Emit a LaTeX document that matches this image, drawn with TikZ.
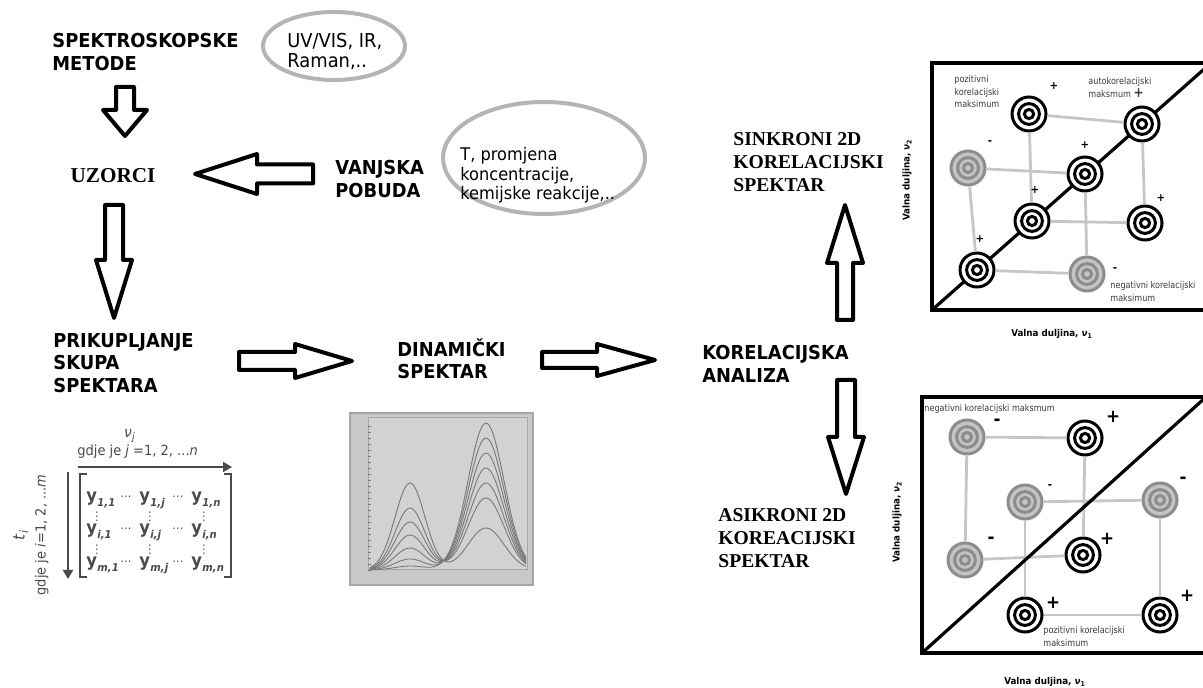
\documentclass[tikz,border=0pt]{standalone}
\usepackage{fontspec}
\setmainfont{DejaVu Sans}[FakeStretch=0.93]
\newfontfamily\tinysans{DejaVu Sans}[FakeStretch=0.86]
\newfontfamily\headserif{Liberation Serif}
\usetikzlibrary{arrows.meta,calc,shapes.geometric}
\definecolor{Ring}{HTML}{B4B4B4}
\definecolor{Link}{HTML}{C6C6C6}
\definecolor{SpotGrey}{HTML}{8C8C8C}
\definecolor{SpotFill}{HTML}{C4C4C4}
\definecolor{Mat}{HTML}{4A4A4A}
\definecolor{Tiny}{HTML}{3A3A3A}
\definecolor{Panel}{HTML}{C8C8C8}
\definecolor{PanelEdge}{HTML}{A6A6A6}
\definecolor{PlotFill}{HTML}{D2D2D2}
\definecolor{Curve}{HTML}{787878}
\newcommand{\fatarrow}[5]{%
  \path (#2) coordinate (fa-e) ($(#2)!#5!(#1)$) coordinate (fa-h);
  \draw[fat] ($(#1)!#3!90:(#2)$) -- ($(fa-h)!#3!90:(fa-e)$) -- ($(fa-h)!#4!90:(fa-e)$)
    -- (fa-e) -- ($(fa-h)!#4!-90:(fa-e)$) -- ($(fa-h)!#3!-90:(fa-e)$)
    -- ($(#1)!#3!-90:(#2)$) -- cycle;}
\newcommand{\ent}[1]{\textbf{y}\kern.2pt\raisebox{-.45ex}{\fontsize{5.4}{5.4}\selectfont\bfseries\itshape #1}}
\tikzset{
  hd/.style={font=\bfseries\fontsize{9.6}{11.3}\selectfont,align=left,inner sep=0pt,anchor=north west},
  hdserif/.style={hd,font=\headserif\bfseries\fontsize{9.8}{11.5}\selectfont},
  note/.style={font=\fontsize{9.6}{10}\selectfont,align=left,inner sep=0pt,anchor=north west},
  bubble/.style={ellipse,draw=Ring,line width=2pt,inner sep=0pt},
  fat/.style={draw=black,fill=white,line width=2pt,line join=round},
  garrow/.style={draw=Mat,line width=1.3pt,-{Triangle[length=4.5pt,width=5pt]}},
  bracket/.style={draw=Mat,line width=1.1pt},
  ent/.style={font=\fontsize{8.8}{9}\selectfont,text=Mat,inner sep=0pt,anchor=base west},
  mdots/.style={font=\fontsize{6}{6}\selectfont,text=Mat,inner sep=0pt},
  matlab/.style={font=\fontsize{7}{10.5}\selectfont,text=Mat,inner sep=0pt,align=center},
  panel/.style={draw=PanelEdge,fill=Panel,line width=.8pt,minimum width=91.5pt,minimum height=86pt,inner sep=0pt},
  curve/.style={draw=Curve,line width=.45pt},
  frame/.style={draw=black,line width=1.6pt},
  diag/.style={draw=black,line width=1.6pt},
  spotk/.style={circle,draw=black,fill=white,line width=1.5pt,minimum size=17pt,inner sep=0pt,
    path picture={\draw[black,line width=1.5pt] (path picture bounding box.center) circle (5.2pt) circle (2.3pt);}},
  spotg/.style={spotk,draw=SpotGrey,fill=SpotFill,
    path picture={\draw[SpotGrey,line width=1.5pt] (path picture bounding box.center) circle (5.2pt) circle (2.3pt);}},
  link/.style={draw=Link,line width=1.4pt},
  tiny/.style={font=\tinysans\fontsize{4.7}{6.3}\selectfont,text=Tiny,align=left,inner sep=0pt,anchor=north west},
  axlab/.style={font=\bfseries\fontsize{4.7}{5}\selectfont,inner sep=0pt},
  sgn/.style={font=\bfseries\fontsize{5.5}{5.5}\selectfont,inner sep=0pt},
  bigsgn/.style={font=\bfseries\fontsize{9}{9}\selectfont,inner sep=0pt}
}
\begin{document}
\begin{tikzpicture}[x=0.5pt,y=-0.5pt]
  \useasboundingbox (0,0) rectangle (1203,688);
  \clip (0,0) rectangle (1203,688);
  % flow texts
  \node[hd] (metode) at (52,33) {SPEKTROSKOPSKE\\METODE};
  \node[bubble,minimum width=71pt,minimum height=34pt] (metode-ell) at (334,46) {};
  \node[note] (metode-txt) at (287,33) {UV/VIS, IR,\\Raman,..};
  \node[hdserif,anchor=center,font=\headserif\bfseries\fontsize{10.6}{12}\selectfont] (uzorci) at (113,176) {UZORCI};
  \node[hd] (pobuda) at (335,160) {VANJSKA\\POBUDA};
  \node[bubble,minimum width=101pt,minimum height=56pt] (pobuda-ell) at (544,158) {};
  \node[note,font=\fontsize{8.7}{9.8}\selectfont] (pobuda-txt) at (460,147) {T, promjena\\koncentracije,\\kemijske reakcije,..};
  \node[hd] (skup) at (53,333) {PRIKUPLJANJE\\SKUPA\\SPEKTARA};
  \node[hd] (dinamicki) at (397,338) {DINAMIČKI\\SPEKTAR};
  \node[hd] (analiza) at (702,345) {KORELACIJSKA\\ANALIZA};
  \node[hdserif] (sinkroni) at (733,132) {SINKRONI 2D\\KORELACIJSKI\\SPEKTAR};
  \node[hdserif] (asinkroni) at (718,508) {ASIKRONI 2D\\KOREACIJSKI\\SPEKTAR};
  % block arrows
  \coordinate (metode-out) at (125,87);  \coordinate (uzorci-in) at (125,136);
  \coordinate (pobuda-out) at (313,174); \coordinate (uzorci-side) at (195,174);
  \coordinate (uzorci-out) at (114,205); \coordinate (skup-in) at (114,318);
  \coordinate (skup-out) at (239,361);   \coordinate (dinamicki-in) at (352,361);
  \coordinate (dinamicki-out) at (542,360); \coordinate (analiza-in) at (655,360);
  \coordinate (analiza-up) at (845,320); \coordinate (sinkroni-in) at (845,205);
  \coordinate (analiza-down) at (846,380); \coordinate (asinkroni-in) at (846,494);
  \fatarrow{metode-out}{uzorci-in}{4.5pt}{11pt}{13pt}
  \fatarrow{pobuda-out}{uzorci-side}{4.75pt}{10pt}{31pt}
  \fatarrow{uzorci-out}{skup-in}{4.5pt}{9pt}{29pt}
  \fatarrow{skup-out}{dinamicki-in}{4.5pt}{8.5pt}{28.5pt}
  \fatarrow{dinamicki-out}{analiza-in}{4pt}{8pt}{29pt}
  \fatarrow{analiza-up}{sinkroni-in}{4pt}{9pt}{29pt}
  \fatarrow{analiza-down}{asinkroni-in}{4.5pt}{9pt}{28.5pt}
  % data matrix
  \node[matlab,font=\itshape\fontsize{7.5}{8}\selectfont] (nu-j) at (130,436) {ν\textsubscript{j}};
  \node[matlab,anchor=base west] (cols-txt) at (77,456) {gdje je \textit{j} =1, 2, ...\textit{n}};
  \node[matlab,rotate=90] (rows-txt) at (31,535) {{\fontsize{8}{8}\selectfont\textit{t}\textsubscript{\textit{i}}}\\gdje je \textit{i}=1, 2, ...\textit{m}};
  \coordinate (cols-s) at (78,467); \coordinate (cols-e) at (232,467);
  \coordinate (rows-s) at (68,472); \coordinate (rows-e) at (68,579);
  \draw[garrow] (cols-s) -- (cols-e);
  \draw[garrow] (rows-s) -- (rows-e);
  \draw[bracket] (87,474) -- (80,474) -- (80,577) -- (87,577);
  \draw[bracket] (224,474) -- (231,474) -- (231,577) -- (224,577);
  \foreach \row/\ry in {1/502,i/534,m/567}{
    \foreach \col/\cx in {1/86,j/139,n/191}
      \node[ent] (y-\row-\col) at (\cx,\ry) {\ent{\row,\col}};
    \node[mdots] (hdots-\row-a) at (126,\ry-4) {⋯};
    \node[mdots] (hdots-\row-b) at (178,\ry-4) {⋯};
  }
  \foreach \vy [count=\k] in {517,550}
    \foreach \vx [count=\m] in {97,150,204}
      \node[mdots] (vdots-\k-\m) at (\vx,\vy) {⋮};
  % dynamic spectrum
  \node[panel] (dyn-plot) at (441.5,499) {};
  \draw[draw=PanelEdge,fill=PlotFill,line width=.5pt] (368,418) rectangle (527,570);
  \foreach \t in {0,...,24} \draw[draw=Curve,line width=.3pt] (368,570-\t*6) -- ++(3,0);
  \foreach \hl/\hr in {87/42,62/72,48/87,35/102,22/117,11/132,4/147}
    \draw[curve] plot[domain=370:526,samples=70,smooth]
      (\x,{570-\hl*exp(max(-9,-((\x-410)/15)^2/2))-\hr*exp(max(-9,-((\x-486)/18)^2/2))});
  % synchronous map
  \draw[frame] (932,63) rectangle (1214,310);
  \coordinate (sync-o) at (932,310); \coordinate (sync-t) at (1211,63);
  \draw[diag] (sync-o) -- (sync-t);
  \node[spotk] (s-g) at (977,270) {};
  \node[spotk] (s-e) at (1032,221) {};
  \node[spotk] (s-d) at (1085,174) {};
  \node[spotk] (s-b) at (1142,124) {};
  \node[spotk] (s-a) at (1029,114) {};
  \node[spotg] (s-c) at (968,168) {};
  \node[spotk] (s-f) at (1145,223) {};
  \node[spotg] (s-h) at (1087,274) {};
  \foreach \u/\v in {s-a/s-b,s-a/s-e,s-c/s-d,s-c/s-g,s-e/s-f,s-f/s-b,s-d/s-h,s-g/s-h}
    \draw[link] (\u) -- (\v);
  \node[tiny] (sync-pos) at (954,75) {pozitivni\\korelacijski\\maksimum};
  \node[tiny] (sync-auto) at (1088,77) {autokorelacijski\\maksmum {\bfseries\fontsize{7}{7}\selectfont +}};
  \node[tiny] (sync-neg) at (1110,281) {negativni korelacijski\\maksimum};
  \foreach \p [count=\k] in {(1054,86),(1085,145),(1035,190),(1161,198),(980,239)}
    \node[sgn] (sync-plus-\k) at \p {+};
  \node[sgn] (sync-minus-1) at (990,143) {-};
  \node[sgn] (sync-minus-2) at (1115,270) {-};
  \node[axlab,rotate=90] (sync-ylab) at (907,180) {Valna duljina, \textit{ν}\textsubscript{2}};
  \node[axlab] (sync-xlab) at (1052,334) {Valna duljina, \textit{ν}\textsubscript{1}};
  % asynchronous map
  \draw[frame] (922,397) rectangle (1214,653);
  \node[spotg] (a-n1) at (967,437) {};
  \node[spotk] (a-p1) at (1085,438) {};
  \node[spotg] (a-n2) at (1025,502) {};
  \node[spotg] (a-n3) at (1160,500) {};
  \node[spotg] (a-n4) at (965,560) {};
  \node[spotk] (a-p2) at (1083,555) {};
  \node[spotk] (a-p3) at (1025,615) {};
  \node[spotk] (a-p4) at (1160,615) {};
  \foreach \u/\v in {a-n1/a-p1,a-n1/a-n4,a-n4/a-p2,a-p1/a-p2,a-n2/a-n3,a-n2/a-p3,a-n3/a-p4,a-p3/a-p4}
    \draw[link] (\u) -- (\v);
  \coordinate (asyn-o) at (922,653); \coordinate (asyn-t) at (1206,397);
  \draw[diag] (asyn-o) -- (asyn-t);
  \node[tiny] (asyn-neg) at (924,404) {negativni korelacijski maksmum};
  \node[tiny] (asyn-pos) at (1043,626) {pozitivni korelacijski\\maksimum};
  \foreach \p [count=\k] in {(1113,417),(1107,539),(1053,603),(1187,596)}
    \node[bigsgn] (asyn-plus-\k) at \p {+};
  \foreach \p [count=\k] in {(997,422),(1183,480),(991,540)}
    \node[bigsgn] (asyn-minus-\k) at \p {-};
  \node[sgn] (asyn-minus-4) at (1050,487) {-};
  \node[axlab,rotate=90] (asyn-ylab) at (897,522) {Valna duljina, \textit{ν}\textsubscript{2}};
  \node[axlab] (asyn-xlab) at (1045,682) {Valna duljina, \textit{ν}\textsubscript{1}};
\end{tikzpicture}
\end{document}
